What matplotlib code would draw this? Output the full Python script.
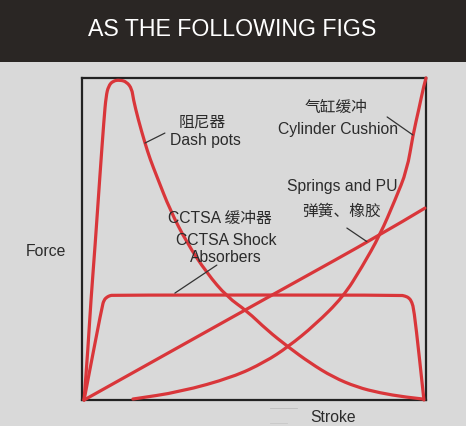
import matplotlib
matplotlib.use("Agg")
import matplotlib.pyplot as plt
from matplotlib.lines import Line2D
from matplotlib.patches import Rectangle, PathPatch
from matplotlib.path import Path

plt.rcParams['font.family'] = ['Liberation Sans', 'Noto Sans CJK SC', 'DejaVu Sans']

# ---- data (Stroke 0-100, Force 0-100) ----
dash_x = [0.6, 1.7, 2.6, 3.8, 5.2, 6.4, 7.0, 7.7, 9.0, 11.0, 13.0, 14.5, 14.9, 16.3, 18.3,
          19.8, 21.8, 25.6, 30.5, 36.3, 42.2, 48.0, 53.8, 59.9, 66.3, 73.0, 79.9, 86.6, 93.9, 99.1]
dash_y = [0.0, 15.5, 31.1, 47.8, 69.6, 87.3, 94.4, 97.5, 99.1, 99.4, 98.8, 96.6, 93.5, 87.3, 79.8,
          74.8, 69.3, 59.0, 48.8, 39.4, 32.0, 27.6, 21.7, 16.5, 11.5, 7.1, 4.0, 2.2, 0.9, 0.3]

cyl_x = [14.8, 28.5, 43.9, 53.2, 59.9, 67.7, 75.9, 81.4, 86.6, 91.0, 94.5, 96.2, 98.0, 99.4, 100.0]
cyl_y = [0.3, 2.5, 7.1, 11.8, 16.5, 23.3, 32.0, 41.3, 51.2, 62.1, 71.4, 82.3, 90.7, 97.8, 100.0]

spring_x = [0.6, 48.0, 60.5, 86.6, 99.7]
spring_y = [0.0, 28.3, 35.7, 51.2, 59.6]

cctsa_x = [0.6, 5.8, 6.4, 7.3, 8.1, 9.0, 92.4, 93.9, 95.1, 95.9, 96.5, 98.0, 99.4]
cctsa_y = [0.0, 28.9, 31.1, 32.0, 32.4, 32.6, 32.6, 32.3, 31.7, 30.4, 28.0, 14.0, 0.0]

title = "AS THE FOLLOWING FIGS"
x_label = "Stroke"
y_label = "Force"

RED = "#d9363a"
TXT = "#2b2b2b"
BG = "#d9d9d9"


def smooth_path(xs, ys):
    """Quadratic-Bezier path using the read points as control points."""
    pts = list(zip(xs, ys))
    verts = [pts[0]]
    codes = [Path.MOVETO]
    if len(pts) == 2:
        verts.append(pts[1]); codes.append(Path.LINETO)
        return Path(verts, codes)
    # first segment straight to the midpoint of p0-p1
    m = ((pts[0][0] + pts[1][0]) / 2, (pts[0][1] + pts[1][1]) / 2)
    verts.append(m); codes.append(Path.LINETO)
    for i in range(1, len(pts) - 1):
        nxt = pts[i + 1]
        if i == len(pts) - 2:
            end = nxt
        else:
            end = ((pts[i][0] + nxt[0]) / 2, (pts[i][1] + nxt[1]) / 2)
        verts += [pts[i], end]
        codes += [Path.CURVE3, Path.CURVE3]
    return Path(verts, codes)


fig = plt.figure(figsize=(4.66, 4.26), dpi=100, facecolor=BG)

# header bar
fig.add_artist(Rectangle((0, 1 - 62 / 426), 1, 62 / 426, transform=fig.transFigure,
                         facecolor="#2a2624", edgecolor="none", zorder=0))
fig.text(0.498, 1 - 30 / 426, title, color="white", fontsize=16.7,
         ha="center", va="center")

ax = fig.add_axes([82 / 466, 26 / 426, 344 / 466, 322 / 426], facecolor=BG)
ax.set_xlim(0, 100)
ax.set_ylim(0, 100)
ax.set_xticks([])
ax.set_yticks([])
for s in ax.spines.values():
    s.set_color("#222222")
    s.set_linewidth(1.6)
    s.set_zorder(1)

for xs, ys in [(dash_x, dash_y), (cyl_x, cyl_y), (spring_x, spring_y), (cctsa_x, cctsa_y)]:
    ax.add_patch(PathPatch(smooth_path(xs, ys), facecolor="none", edgecolor=RED,
                           lw=2.3, joinstyle="round", capstyle="round", clip_on=False,
                           zorder=3))

fs = 11.3
lead = dict(arrowstyle="-", color="#333333", lw=0.9, shrinkA=0, shrinkB=0)

ax.text(34.9, 86.3, "阻尼器", fontsize=fs, color=TXT, ha="center", va="center")
ax.text(35.8, 80.7, "Dash pots", fontsize=fs, color=TXT, ha="center", va="center")
ax.annotate("", xy=(18.3, 79.8), xytext=(24.1, 82.9), arrowprops=lead)

ax.text(73.8, 91.0, "气缸缓冲", fontsize=fs, color=TXT, ha="center", va="center")
ax.text(74.4, 83.9, "Cylinder Cushion", fontsize=fs, color=TXT, ha="center", va="center")
ax.annotate("", xy=(96.2, 82.3), xytext=(88.7, 87.9), arrowprops=lead)

ax.text(75.6, 66.2, "Springs and PU", fontsize=fs, color=TXT, ha="center", va="center")
ax.text(75.3, 58.5, "弹簧、橡胶", fontsize=fs, color=TXT, ha="center", va="center")
ax.annotate("", xy=(82.8, 49.2), xytext=(77.0, 53.4), arrowprops=lead)

ax.text(40.1, 56.5, "CCTSA 缓冲器", fontsize=fs, color=TXT, ha="center", va="center")
ax.text(41.9, 49.4, "CCTSA Shock", fontsize=fs, color=TXT, ha="center", va="center")
ax.text(41.9, 44.4, "Absorbers", fontsize=fs, color=TXT, ha="center", va="center")
ax.annotate("", xy=(27.0, 33.2), xytext=(39.2, 41.9), arrowprops=lead)

fig.text(46 / 466, 1 - 252 / 426, y_label, fontsize=fs, color=TXT, ha="center", va="center")
fig.text(333 / 466, 1 - 417 / 426, x_label, fontsize=fs, color=TXT, ha="center", va="center")

# faint marks under the axis
fig.add_artist(Line2D([270 / 466, 297 / 466], [1 - 408 / 426] * 2, color="#bdbdbd", lw=0.6))
fig.add_artist(Line2D([270 / 466, 287 / 466], [1 - 423 / 426] * 2, color="#c8c8c8", lw=0.6))

fig.savefig("out.png", dpi=100, facecolor=BG)
